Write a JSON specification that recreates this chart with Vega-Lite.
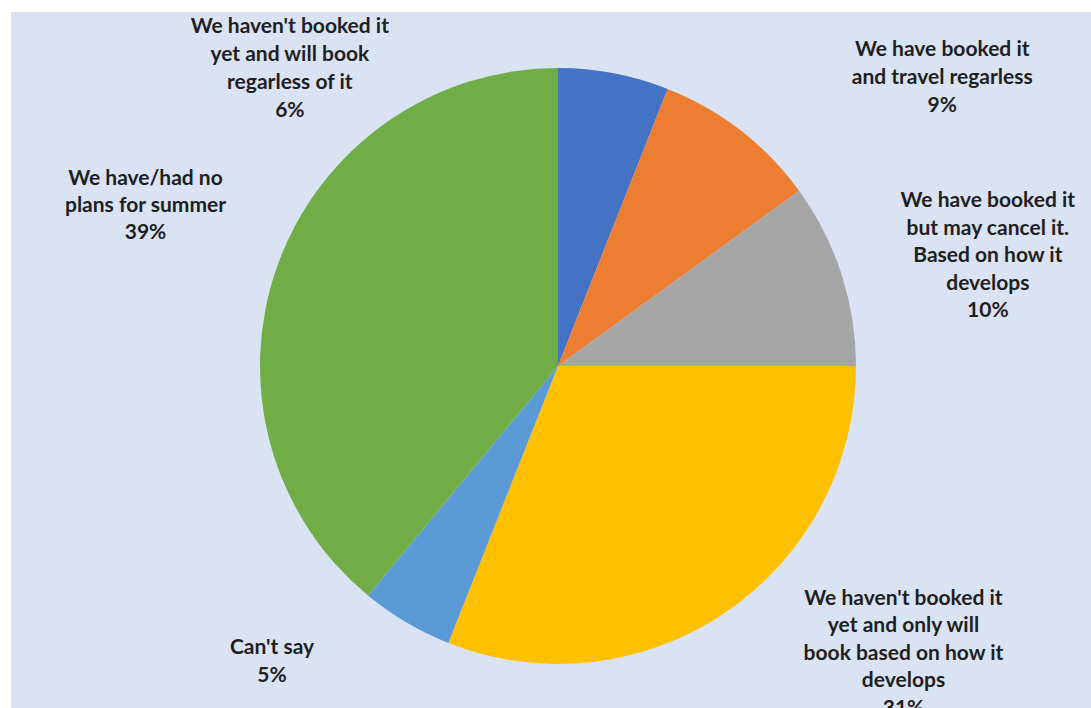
{
  "$schema": "https://vega.github.io/schema/vega-lite/v6.json",
  "width": 1080,
  "height": 696,
  "autosize": {"type": "none"},
  "padding": {"left": 11, "top": 12, "right": 0, "bottom": 0},
  "background": "white",
  "view": {"fill": "#dae3f3", "stroke": null},
  "data": {"values": [
    {"idx": 1, "category": "We haven't booked it yet and will book regarless of it", "label": "We haven't booked it\nyet and will book\nregarless of it\n6%", "value": 6},
    {"idx": 2, "category": "We have booked it and travel regarless", "label": "We have booked it\nand travel regarless\n9%", "value": 9},
    {"idx": 3, "category": "We have booked it but may cancel it. Based on how it develops", "label": "We have booked it\nbut may cancel it.\nBased on how it\ndevelops\n10%", "value": 10},
    {"idx": 4, "category": "We haven't booked it yet and only will book based on how it develops", "label": "We haven't booked it\nyet and only  will\nbook based on how it\ndevelops\n31%", "value": 31},
    {"idx": 5, "category": "Can't say", "label": "Can't say\n5%", "value": 5},
    {"idx": 6, "category": "We have/had no plans for summer", "label": "We have/had no\nplans for summer\n39%", "value": 39}
  ]},
  "encoding": {
    "theta": {"field": "value", "type": "quantitative", "stack": true},
    "order": {"field": "idx", "type": "quantitative"}
  },
  "layer": [
    {
      "mark": {"type": "arc", "radius": 298, "xOffset": 7, "yOffset": 6},
      "encoding": {
        "color": {
          "field": "category", "type": "nominal", "legend": null,
          "scale": {
            "domain": [
              "We haven't booked it yet and will book regarless of it",
              "We have booked it and travel regarless",
              "We have booked it but may cancel it. Based on how it develops",
              "We haven't booked it yet and only will book based on how it develops",
              "Can't say",
              "We have/had no plans for summer"
            ],
            "range": ["#4472c4", "#ed7d31", "#a5a5a5", "#ffc000", "#5b9bd5", "#70ad47"]
          }
        }
      }
    },
    {
      "mark": {"type": "text", "radius": 330, "xOffset": 7, "yOffset": 6, "dx": -330, "dy": -15, "font": "Lato", "fontWeight": "bold", "fontSize": 21, "lineHeight": 28, "lineBreak": "\n", "align": "center", "baseline": "middle", "color": "#1f1f1f"},
      "encoding": {"text": {"condition": {"test": "datum.idx === 1", "field": "label"}, "value": ""}}
    },
    {
      "mark": {"type": "text", "radius": 330, "xOffset": 7, "yOffset": 6, "dx": 182, "dy": -55, "font": "Lato", "fontWeight": "bold", "fontSize": 21, "lineHeight": 28, "lineBreak": "\n", "align": "center", "baseline": "middle", "color": "#1f1f1f"},
      "encoding": {"text": {"condition": {"test": "datum.idx === 2", "field": "label"}, "value": ""}}
    },
    {
      "mark": {"type": "text", "radius": 330, "xOffset": 7, "yOffset": 6, "dx": 116, "dy": -63, "font": "Lato", "fontWeight": "bold", "fontSize": 21, "lineHeight": 27.5, "lineBreak": "\n", "align": "center", "baseline": "middle", "color": "#1f1f1f"},
      "encoding": {"text": {"condition": {"test": "datum.idx === 3", "field": "label"}, "value": ""}}
    },
    {
      "mark": {"type": "text", "radius": 330, "xOffset": 7, "yOffset": 6, "dx": 160, "dy": -40, "font": "Lato", "fontWeight": "bold", "fontSize": 21, "lineHeight": 27.5, "lineBreak": "\n", "align": "center", "baseline": "middle", "color": "#1f1f1f"},
      "encoding": {"text": {"condition": {"test": "datum.idx === 4", "field": "label"}, "value": ""}}
    },
    {
      "mark": {"type": "text", "radius": 330, "xOffset": 7, "yOffset": 6, "dx": -118, "dy": -2, "font": "Lato", "fontWeight": "bold", "fontSize": 21, "lineHeight": 27.5, "lineBreak": "\n", "align": "center", "baseline": "middle", "color": "#1f1f1f"},
      "encoding": {"text": {"condition": {"test": "datum.idx === 5", "field": "label"}, "value": ""}}
    },
    {
      "mark": {"type": "text", "radius": 330, "xOffset": 7, "yOffset": 6, "dx": -102, "dy": -75, "font": "Lato", "fontWeight": "bold", "fontSize": 21, "lineHeight": 27, "lineBreak": "\n", "align": "center", "baseline": "middle", "color": "#1f1f1f"},
      "encoding": {"text": {"condition": {"test": "datum.idx === 6", "field": "label"}, "value": ""}}
    }
  ]
}
